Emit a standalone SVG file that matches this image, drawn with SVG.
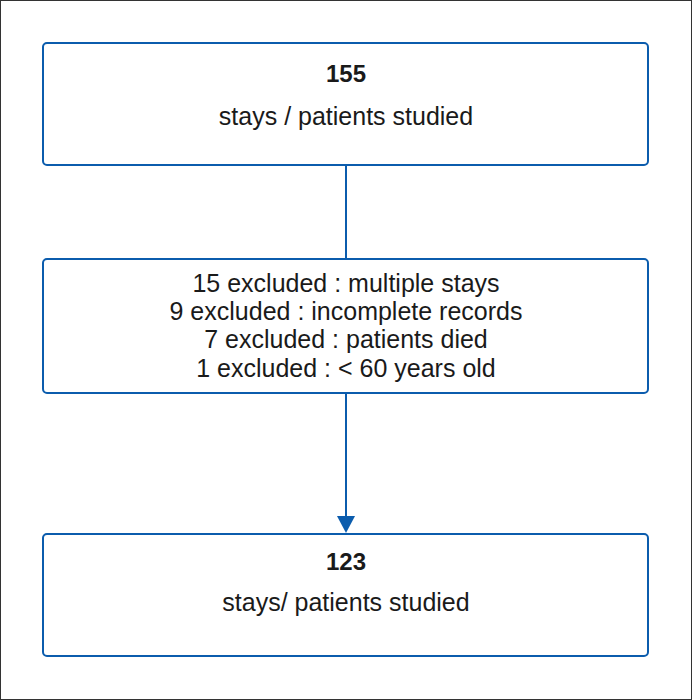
<svg xmlns="http://www.w3.org/2000/svg" width="692" height="700" viewBox="0 0 692 700">
<defs>
<style>
.box{fill:#fff;stroke:#0b5cad;stroke-width:2}
.t{font-family:"Liberation Sans",Arial,sans-serif;font-size:25px;fill:#1a1a1a;text-anchor:middle}
.b{font-weight:bold;font-size:24px}
.c{stroke:#0b5cad;stroke-width:2;fill:none}
</style>
</defs>
<rect x="0.5" y="0.5" width="691" height="699" fill="#fff" stroke="#333" stroke-width="1"/>
<g id="connectors">
<line class="c" x1="346" y1="165" x2="346" y2="259"/>
<path d="M346,393 L346,518" class="c"/>
<path d="M337,516 L355,516 L346,533 Z" fill="#0b5cad"/>
</g>
<g id="n1">
<rect class="box" x="43" y="43" width="605" height="122" rx="4"/>
<text class="t b" x="346" y="82">155</text>
<text class="t" x="346" y="125">stays / patients studied</text>
</g>
<g id="n2">
<rect class="box" x="43" y="259" width="605" height="134" rx="4"/>
<text class="t" x="346" y="292">15 excluded : multiple stays</text>
<text class="t" x="346" y="320">9 excluded : incomplete records</text>
<text class="t" x="346" y="348">7 excluded : patients died</text>
<text class="t" x="346" y="377">1 excluded : &lt; 60 years old</text>
</g>
<g id="n3">
<rect class="box" x="43" y="534" width="605" height="122" rx="4"/>
<text class="t b" x="346" y="570">123</text>
<text class="t" x="346" y="611">stays/ patients studied</text>
</g>
</svg>
